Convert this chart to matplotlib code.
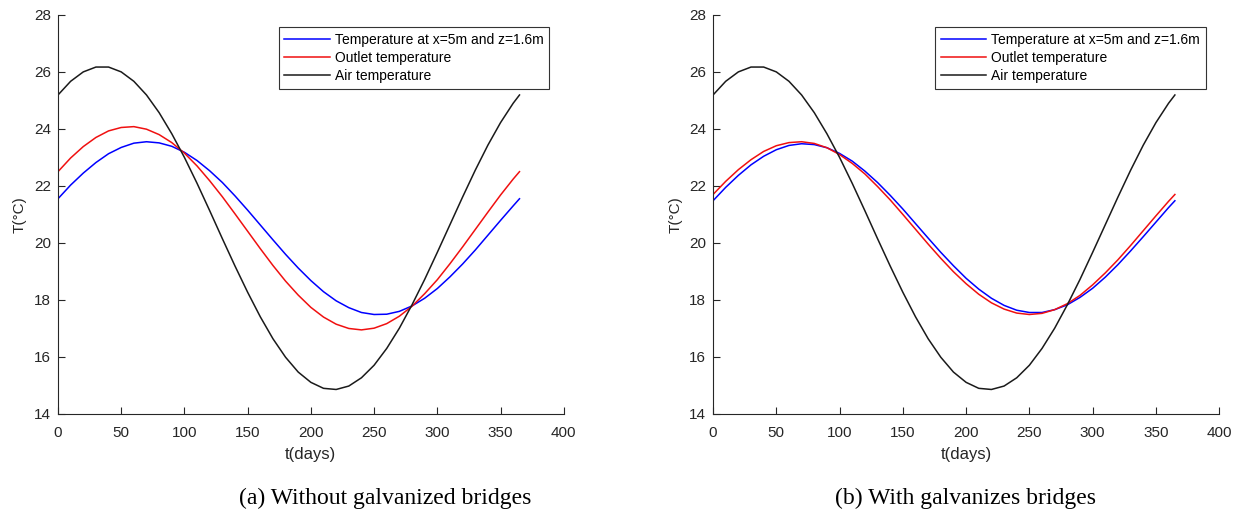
import matplotlib.pyplot as plt

t = [0, 10, 20, 30, 40, 50, 60, 70, 80, 90, 100, 110, 120, 130, 140, 150, 160, 170, 180,
     190, 200, 210, 220, 230, 240, 250, 260, 270, 280, 290, 300, 310, 320, 330, 340, 350, 360, 365]

# air temperature (same in both panels)
air = [25.19, 25.67, 26.00, 26.17, 26.17, 26.00, 25.67, 25.19, 24.57, 23.83, 23.00, 22.09, 21.13,
       20.15, 19.19, 18.27, 17.41, 16.64, 15.99, 15.47, 15.11, 14.90, 14.86, 14.98, 15.27, 15.71,
       16.30, 17.01, 17.83, 18.72, 19.67, 20.64, 21.61, 22.55, 23.43, 24.22, 24.90, 25.19]

# (a) without galvanized bridges
probe_a = [21.55, 22.03, 22.45, 22.82, 23.13, 23.35, 23.50, 23.55, 23.51, 23.39, 23.18, 22.89, 22.53,
           22.12, 21.65, 21.15, 20.63, 20.11, 19.60, 19.12, 18.68, 18.29, 17.97, 17.73, 17.56, 17.49,
           17.50, 17.60, 17.79, 18.06, 18.40, 18.81, 19.26, 19.75, 20.27, 20.79, 21.30, 21.55]
outlet_a = [22.50, 22.98, 23.38, 23.70, 23.93, 24.05, 24.08, 23.99, 23.80, 23.52, 23.15, 22.70, 22.18,
            21.62, 21.02, 20.41, 19.80, 19.21, 18.66, 18.17, 17.74, 17.40, 17.15, 17.00, 16.95, 17.01,
            17.17, 17.43, 17.78, 18.22, 18.71, 19.27, 19.86, 20.47, 21.08, 21.68, 22.24, 22.50]

# (b) with galvanized bridges
probe_b = [21.48, 21.95, 22.37, 22.74, 23.04, 23.27, 23.42, 23.48, 23.45, 23.34, 23.14, 22.87, 22.52,
           22.12, 21.67, 21.19, 20.68, 20.17, 19.67, 19.20, 18.76, 18.38, 18.06, 17.81, 17.64, 17.56,
           17.56, 17.66, 17.83, 18.09, 18.41, 18.80, 19.24, 19.72, 20.22, 20.73, 21.24, 21.48]
outlet_b = [21.70, 22.16, 22.57, 22.92, 23.21, 23.41, 23.52, 23.55, 23.49, 23.34, 23.10, 22.79, 22.42,
            21.98, 21.51, 21.00, 20.48, 19.96, 19.46, 18.99, 18.57, 18.20, 17.90, 17.68, 17.54, 17.49,
            17.53, 17.66, 17.87, 18.16, 18.53, 18.95, 19.41, 19.91, 20.43, 20.95, 21.46, 21.70]

labels = ["Temperature at x=5m and z=1.6m", "Outlet temperature", "Air temperature"]
captions = ["(a) Without galvanized bridges", "(b) With galvanizes bridges"]

plt.rcParams['font.family'] = ['Liberation Sans', 'DejaVu Sans']
axcol = '#262626'

fig = plt.figure(figsize=(12.39, 5.13), dpi=100)
ax1 = fig.add_axes([0.0468, 0.193, 0.4082, 0.778])
ax2 = fig.add_axes([0.5755, 0.193, 0.4085, 0.778])

panels = [(ax1, probe_a, outlet_a, 0.225, 0.311), (ax2, probe_b, outlet_b, 0.7546, 0.779)]
for i, (ax, probe, outlet, legx, capx) in enumerate(panels):
    ax.plot(t, probe, color='#0000ff', lw=1.1, label=labels[0])
    ax.plot(t, outlet, color='#f01010', lw=1.1, label=labels[1])
    ax.plot(t, air, color='#1a1a1a', lw=1.1, label=labels[2])
    ax.set_xlim(0, 400)
    ax.set_ylim(14, 28)
    ax.set_xticks(range(0, 401, 50))
    ax.set_yticks(range(14, 29, 2))
    for s in ['top', 'right']:
        ax.spines[s].set_visible(False)
    for s in ['left', 'bottom']:
        ax.spines[s].set_color(axcol)
        ax.spines[s].set_linewidth(0.8)
    ax.tick_params(direction='in', length=5, width=0.8, colors=axcol, labelsize=11)
    ax.tick_params(axis='x', pad=9)
    ax.tick_params(axis='y', pad=5)
    ax.set_xlabel("t(days)", fontsize=12, color=axcol, labelpad=5)
    ax.set_ylabel("T(°C)", fontsize=11, color=axcol, labelpad=5)
    leg = ax.legend(loc='upper left', bbox_to_anchor=(legx, 0.947), bbox_transform=fig.transFigure,
                    borderaxespad=0, fontsize=10, fancybox=False, framealpha=1, edgecolor='#333333',
                    handlelength=3.3, handletextpad=0.35, labelspacing=0.3, borderpad=0.4)
    leg.get_frame().set_linewidth(0.8)
    fig.text(capx, 0.028, captions[i], ha='center', va='center', fontsize=17,
             family=['Liberation Serif', 'DejaVu Serif'])

fig.savefig("out.png", dpi=100)
